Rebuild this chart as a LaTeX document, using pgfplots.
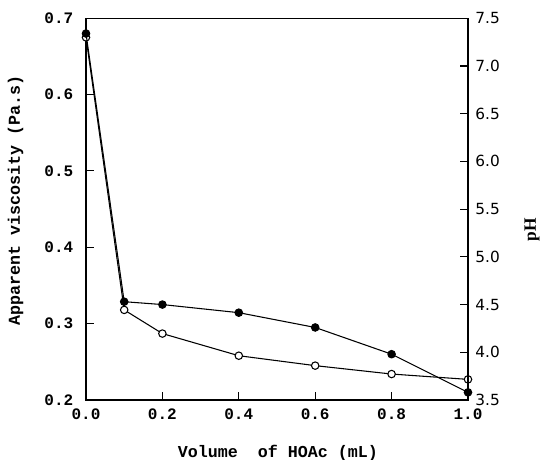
\documentclass[border=0pt]{standalone}
\usepackage{fontspec}
\setmainfont{Liberation Serif}
\setmonofont{Liberation Mono}
\newfontfamily\rfont{DejaVu Sans}
\usepackage{pgfplots}
\pgfplotsset{compat=1.18}
\begin{document}
\begin{tikzpicture}[x=1pt,y=1pt]
\useasboundingbox (-64.5,-45) rectangle (342.75,300);
\begin{axis}[at={(0,0)}, anchor=south west, scale only axis,
  width=286.5pt, height=286.3pt,
  xmin=0, xmax=1, ymin=0.2, ymax=0.7,
  xtick={0,0.2,0.4,0.6,0.8,1.0}, ytick={0.2,0.3,0.4,0.5,0.6,0.7},
  xtick pos=bottom, ytick pos=left, tick align=inside,
  major tick length=6pt,
  axis line style={line width=1pt}, tick style={line width=0.8pt, black},
  /pgf/number format/assume math mode=true,
  xticklabel style={/pgf/number format/fixed, /pgf/number format/fixed zerofill, /pgf/number format/precision=1, font=\ttfamily\bfseries\fontsize{12}{14}\selectfont, yshift=-3pt},
  yticklabel style={/pgf/number format/fixed, /pgf/number format/fixed zerofill, /pgf/number format/precision=1, font=\ttfamily\bfseries\fontsize{12}{14}\selectfont, xshift=-6pt},
  clip=false]
\addplot[black, line width=0.8pt, mark=*, mark options={fill=white, line width=0.8pt}, mark size=2.8pt]
coordinates {(0,0.675) (0.1,0.318) (0.2,0.287) (0.4,0.258) (0.6,0.245) (0.8,0.234) (1.0,0.227)};
\end{axis}
\begin{axis}[at={(0,0)}, anchor=south west, scale only axis,
  width=286.5pt, height=286.3pt,
  xmin=0, xmax=1, ymin=3.5, ymax=7.5,
  hide x axis, axis y line*=right, tick align=inside,
  major tick length=6pt,
  axis line style={line width=1pt, -}, tick style={line width=0.8pt, black},
  ytick={3.5,4.0,4.5,5.0,5.5,6.0,6.5,7.0,7.5},
  /pgf/number format/assume math mode=true,
  yticklabel style={/pgf/number format/fixed, /pgf/number format/fixed zerofill, /pgf/number format/precision=1, font=\rfont\fontsize{11.5}{13}\selectfont, xshift=2pt},
  clip=false]
\addplot[black, line width=0.8pt, mark=*, mark options={fill=black}, mark size=2.8pt]
coordinates {(0,7.34) (0.1,4.53) (0.2,4.50) (0.4,4.415) (0.6,4.26) (0.8,3.98) (1.0,3.58)};
\end{axis}
\node[rotate=90, font=\ttfamily\bfseries\fontsize{12.5}{14}\selectfont] at (-52.9,150) {Apparent viscosity (Pa.s)};
\node[font=\ttfamily\bfseries\fontsize{12.5}{14}\selectfont] at (144,-39.75) {Volume\ \ of HOAc (mL)};
\node[rotate=90, font=\bfseries\fontsize{13}{15}\selectfont] at (334.5,127.5) {pH};
\end{tikzpicture}
\end{document}
